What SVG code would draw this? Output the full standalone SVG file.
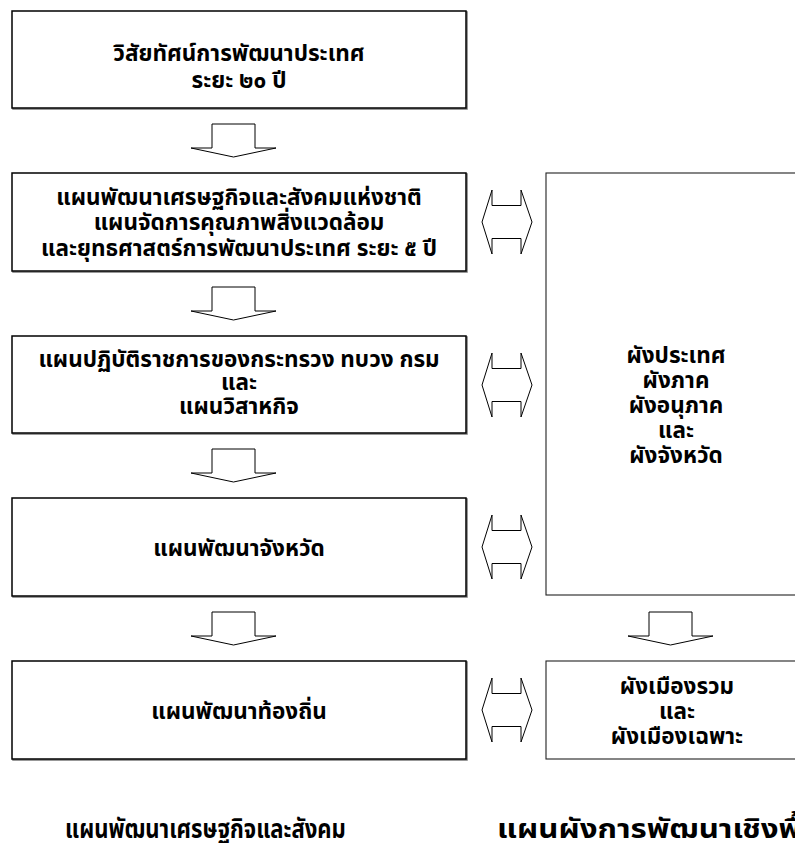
<svg xmlns="http://www.w3.org/2000/svg" width="795" height="843" viewBox="0 0 795 843">
<style>
.box{fill:#fff;stroke:#000;stroke-width:1.5}
.sh{fill:none;stroke:#777;stroke-width:1.5}
.rbox{fill:#fff;stroke:#222;stroke-width:1.1}
.arr{fill:#fff;stroke:#000;stroke-width:1;stroke-linejoin:miter}
.t{font-family:"Noto Sans Thai","Noto Sans Thai Looped",Tahoma,"Noto Sans",sans-serif;font-weight:bold;font-size:22.5px;fill:#000;text-anchor:middle}
.lbl{font-family:"Noto Sans Thai","Noto Sans",sans-serif;font-weight:bold;font-size:26px;fill:#000}
</style>
<rect width="795" height="843" fill="#fff"/>
<g id="connectors">
<path class="arr" d="M212,124H255V148H276L233.5,157L191,148H212Z"/>
<path class="arr" d="M212,287H255V311H276L233.5,320L191,311H212Z"/>
<path class="arr" d="M212,449H255V473H276L233.5,482L191,473H212Z"/>
<path class="arr" d="M212,612H255V636H276L233.5,645L191,636H212Z"/>
<path class="arr" d="M649,612H692V636H713L670.5,645L628,636H649Z"/>
<path class="arr" d="M492,190V205.5H521V190L532,222L521,254V238.5H492V254L482,222Z"/>
<path class="arr" d="M492,353V368.5H521V353L532,385L521,417V401.5H492V417L482,385Z"/>
<path class="arr" d="M492,515V530.5H521V515L532,547L521,579V563.5H492V579L482,547Z"/>
<path class="arr" d="M492,678V693.5H521V678L532,710L521,742V726.5H492V742L482,710Z"/>
</g>
<g id="n1">
<rect class="sh" x="13" y="12" width="454" height="97"/>
<rect class="box" x="12" y="11" width="454" height="97"/>
<text class="t" x="239" y="61">วิสัยทัศน์การพัฒนาประเทศ</text>
<text class="t" x="239" y="88">ระยะ ๒๐ ปี</text>
</g>
<g id="n2">
<rect class="sh" x="13" y="174" width="454" height="98"/>
<rect class="box" x="12" y="173" width="454" height="98"/>
<text class="t" x="239" y="205">แผนพัฒนาเศรษฐกิจและสังคมแห่งชาติ</text>
<text class="t" x="239" y="230">แผนจัดการคุณภาพสิ่งแวดล้อม</text>
<text class="t" x="239" y="256">และยุทธศาสตร์การพัฒนาประเทศ ระยะ ๕ ปี</text>
</g>
<g id="n3">
<rect class="sh" x="13" y="337" width="454" height="97"/>
<rect class="box" x="12" y="336" width="454" height="97"/>
<text class="t" x="239" y="367">แผนปฏิบัติราชการของกระทรวง ทบวง กรม</text>
<text class="t" x="239" y="390">และ</text>
<text class="t" x="239" y="414">แผนวิสาหกิจ</text>
</g>
<g id="n4">
<rect class="sh" x="13" y="499" width="454" height="98"/>
<rect class="box" x="12" y="498" width="454" height="98"/>
<text class="t" x="239" y="556">แผนพัฒนาจังหวัด</text>
</g>
<g id="n5">
<rect class="sh" x="13" y="662" width="454" height="98"/>
<rect class="box" x="12" y="661" width="454" height="98"/>
<text class="t" x="239" y="719">แผนพัฒนาท้องถิ่น</text>
</g>
<g id="n6">
<rect class="rbox" x="546" y="173" width="270" height="422"/>
<text class="t" x="676" y="363">ผังประเทศ</text>
<text class="t" x="676" y="388">ผังภาค</text>
<text class="t" x="676" y="413">ผังอนุภาค</text>
<text class="t" x="676" y="438">และ</text>
<text class="t" x="676" y="463">ผังจังหวัด</text>
</g>
<g id="n7">
<rect class="rbox" x="546" y="661" width="270" height="98"/>
<text class="t" x="677" y="694">ผังเมืองรวม</text>
<text class="t" x="677" y="719">และ</text>
<text class="t" x="677" y="744">ผังเมืองเฉพาะ</text>
</g>
<g id="labels">
<text class="lbl" transform="translate(65,838) scale(0.85,1)">แผนพัฒนาเศรษฐกิจและสังคม</text>
<text class="lbl" transform="translate(497,838) scale(1.2,1)">แผนผังการพัฒนาเชิงพื้นที่</text>
</g>
</svg>
